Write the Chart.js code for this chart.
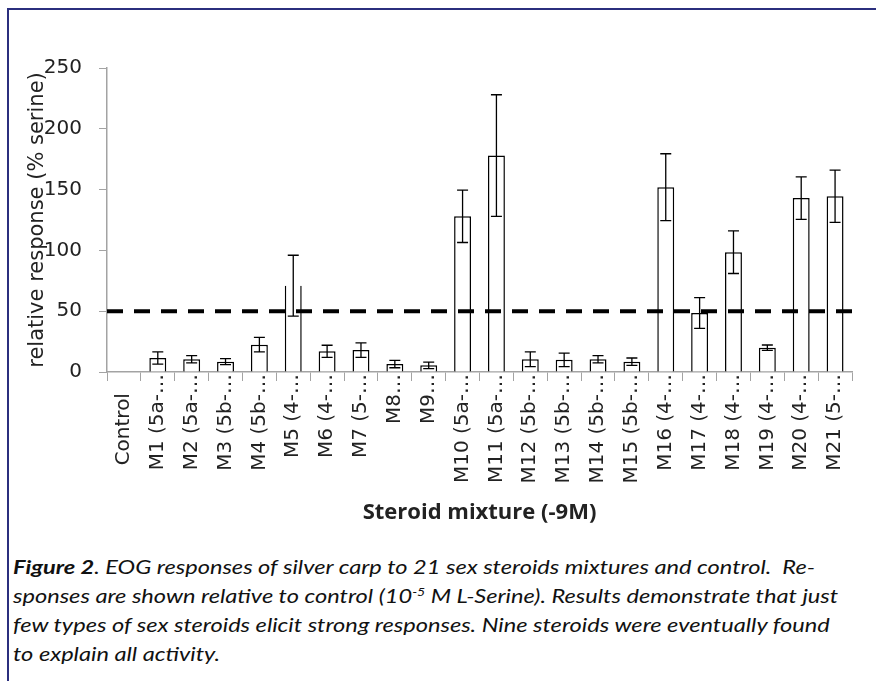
<!DOCTYPE html>
<html>
<head>
<meta charset="utf-8">
<script src="https://cdn.jsdelivr.net/npm/chart.js@4.4.1/dist/chart.umd.min.js"></script>
<style>
    body { margin: 0; background: #fff; width: 876px; height: 681px; overflow: hidden; position: relative; }
    #frame { position: absolute; left: 7px; top: 8px; width: 900px; height: 700px; border-left: 2px solid #2b2f7e; border-top: 2px solid #2b2f7e; }
    #chartBox { position: absolute; left: 10px; top: 10px; width: 866px; height: 516px; }
    #caption { position: absolute; left: 13px; top: 553px; font-family: Lato, "Open Sans", sans-serif; font-style: italic; font-size: 18.5px; line-height: 29px; color: #111; white-space: nowrap; transform: scaleX(1.276); transform-origin: 0 0; }
</style>
</head>
<body>
<div id="frame"></div>
<div id="chartBox"><canvas id="steroids"></canvas></div>
<div id="caption"><b>Figure 2</b>. EOG responses of silver carp to 21 sex steroids mixtures and control.&nbsp; Re-<br>sponses are shown relative to control (10<sup style="font-size:11px;line-height:0">-5</sup> M L-Serine). Results demonstrate that just<br>few types of sex steroids elicit strong responses. Nine steroids were eventually found<br>to explain all activity.</div>
<script>
// values
const mixtures = ['Control   ', 'M1 (5a-…', 'M2 (5a-…', 'M3 (5b-…', 'M4 (5b-…', 'M5 (4-…', 'M6 (4-…', 'M7 (5-…', 'M8…', 'M9…',
    'M10 (5a-…', 'M11 (5a-…', 'M12 (5b-…', 'M13 (5b-…', 'M14 (5b-…', 'M15 (5b-…', 'M16 (4-…', 'M17 (4-…', 'M18 (4-…', 'M19 (4-…', 'M20 (4-…', 'M21 (5-…']
const responses = [null, 11.5, 10.5, 8.5, 22.5, 71, 17, 18, 6.5, 5.5,
    128, 178, 10.5, 10, 10.5, 8.5, 152, 48.5, 98.5, 20, 143, 144.5]
const errors = [0, 5, 3, 2.5, 6, 25, 5, 6, 3, 2.7,
    21.5, 50, 6, 5.6, 3, 3, 27.5, 12.6, 17.5, 2.2, 17.5, 21.5]
const yTicks = [0, 50, 100, 150, 200, 250]
const threshold = 50

const axisGray = '#a3a3a3'
const textColor = '#222'

// error bars, from the y scale
const errorBars = {
    id: 'errorBars',
    afterDatasetsDraw(chart){
        const ctx = chart.ctx
        const x = chart.scales.x
        const y = chart.scales.y
        ctx.save()
        ctx.strokeStyle = '#000'
        ctx.lineWidth = 1.3
        responses.forEach((v, i)=>{
            if (v === null || !errors[i]) return
            const px = x.getPixelForValue(i)
            const top = y.getPixelForValue(v + errors[i])
            const bot = y.getPixelForValue(v - errors[i])
            ctx.beginPath()
            ctx.moveTo(px, top); ctx.lineTo(px, bot)
            ctx.moveTo(px - 5.5, top); ctx.lineTo(px + 5.5, top)
            ctx.moveTo(px - 5.5, bot); ctx.lineTo(px + 5.5, bot)
            ctx.stroke()
        })
        ctx.restore()
    }
}

// dashed reference line at 50 %
const thresholdLine = {
    id: 'thresholdLine',
    afterDatasetsDraw(chart){
        const ctx = chart.ctx
        const area = chart.chartArea
        const py = chart.scales.y.getPixelForValue(threshold)
        ctx.save()
        ctx.strokeStyle = '#000'
        ctx.lineWidth = 4
        ctx.setLineDash([16, 11])
        ctx.beginPath()
        ctx.moveTo(area.left, py)
        ctx.lineTo(area.right + 2, py)
        ctx.stroke()
        ctx.restore()
    }
}

const config = {
    type: 'bar',
    data: {
        labels: mixtures,
        datasets: [{
            label: 'relative response',
            data: responses,
            backgroundColor: '#fff',
            borderColor: '#000',
            // M5 is drawn without a top edge in the original
            borderWidth: (c)=> c.dataIndex === 5 ? {left: 1.5, right: 1.5, top: 0, bottom: 0} : 1.5,
            borderSkipped: 'start',
            categoryPercentage: 1,
            barPercentage: 0.5
        }]
    },
    options: {
        responsive: true,
        maintainAspectRatio: false,
        animation: false,
        layout: {padding: {top: 58, right: 24, left: 0, bottom: 0}},
        plugins: {
            legend: {display: false},
            tooltip: {enabled: false}
        },
        scales: {
            x: {
                grid: {display: true, drawOnChartArea: false, offset: true, tickLength: 9, color: axisGray, lineWidth: 1},
                border: {color: axisGray, width: 1.5},
                ticks: {
                    autoSkip: false, minRotation: 90, maxRotation: 90, padding: -7,
                    color: textColor, font: {family: 'DejaVu Sans', size: 20}
                },
                title: {
                    display: true, text: 'Steroid mixture (-9M)', color: textColor,
                    font: {family: 'Open Sans', size: 22, weight: 'bold'},
                    padding: {top: 0, bottom: 0}
                },
                afterFit(scale){ scale.height = 154 }
            },
            y: {
                min: 0, max: 250,
                afterBuildTicks(scale){ scale.ticks = yTicks.map(v=>({value: v})) },
                grid: {display: true, drawOnChartArea: false, tickLength: 8, color: axisGray, lineWidth: 1},
                border: {color: axisGray, width: 1.5},
                ticks: {padding: 17, color: textColor, font: {family: 'DejaVu Sans', size: 20}},
                title: {
                    display: true, text: 'relative response (% serine)', color: textColor,
                    font: {family: 'DejaVu Sans', size: 21},
                    padding: {top: 15, bottom: 0}
                },
                afterFit(scale){ scale.width = 97 }
            }
        }
    },
    plugins: [thresholdLine, errorBars]
}

new Chart(document.getElementById('steroids'), config)
</script>
</body>
</html>
